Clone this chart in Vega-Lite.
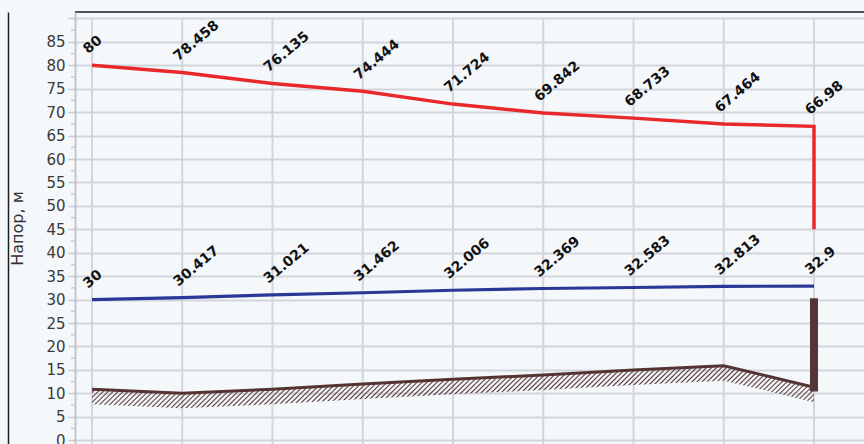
{
"$schema": "https://vega.github.io/schema/vega-lite/v6.json",
"autosize": {"type": "none"},
"padding": {"left": 75, "top": 12, "right": 0, "bottom": 0},
"width": 789,
"height": 432,
"background": "#f5f8fa",
"config": {"view": {"fill": "#f5f8fa", "stroke": "#1e1e1e", "strokeWidth": 1.5, "strokeDash": [789, 1653]}},
"resolve": {"axis": {"y": "independent"}},
"datasets": {
"st": [
{"x": 0, "p": 80, "h": 30, "g": 10.9},
{"x": 1, "p": 78.458, "h": 30.417, "g": 10.0},
{"x": 2, "p": 76.135, "h": 31.021, "g": 10.9},
{"x": 3, "p": 74.444, "h": 31.462, "g": 12.0},
{"x": 4, "p": 71.724, "h": 32.006, "g": 13.0},
{"x": 5, "p": 69.842, "h": 32.369, "g": 13.9},
{"x": 6, "p": 68.733, "h": 32.583, "g": 15.0},
{"x": 7, "p": 67.464, "h": 32.813, "g": 15.9},
{"x": 8, "p": 66.98, "h": 32.9, "g": 11.3}
],
"red": [
{"i": 0, "x": 0, "v": 80},
{"i": 1, "x": 1, "v": 78.458},
{"i": 2, "x": 2, "v": 76.135},
{"i": 3, "x": 3, "v": 74.444},
{"i": 4, "x": 4, "v": 71.724},
{"i": 5, "x": 5, "v": 69.842},
{"i": 6, "x": 6, "v": 68.733},
{"i": 7, "x": 7, "v": 67.464},
{"i": 8, "x": 8, "v": 66.98},
{"i": 9, "x": 8, "v": 45}
],
"well": [{"x": 8, "lo": 10.4, "hi": 30.3}],
"mt": [{"v":2.5},{"v":7.5},{"v":12.5},{"v":17.5},{"v":22.5},{"v":27.5},{"v":32.5},{"v":37.5},{"v":42.5},{"v":47.5},{"v":52.5},{"v":57.5},{"v":62.5},{"v":67.5},{"v":72.5},{"v":77.5},{"v":82.5},{"v":87.5}]
},
"layer": [
{"data": {"name": "mt"},
 "mark": {"type": "rule", "color": "#c8cbd3", "strokeWidth": 1.5},
 "encoding": {
  "y": {"field": "v", "type": "quantitative", "scale": {"domain": [-0.81, 91.38], "nice": false, "zero": false},
   "axis": {"orient": "left", "offset": 67, "domain": true, "domainColor": "#1e1e1e", "domainWidth": 1.5, "labels": false, "ticks": false, "grid": false, "title": null}},
  "x": {"datum": -0.233, "type": "quantitative", "scale": {"domain": [-0.1884, 8.554], "nice": false, "zero": false}, "axis": null},
  "x2": {"datum": -0.1884}
 }},
{"data": {"name": "st"},
 "mark": {"type": "rule", "color": "#d2d5dc", "strokeWidth": 2},
 "encoding": {
  "x": {"field": "x", "type": "quantitative", "scale": {"domain": [-0.1884, 8.554], "nice": false, "zero": false}, "axis": null},
  "y": {"datum": 90, "type": "quantitative", "scale": {"domain": [-0.81, 91.38], "nice": false, "zero": false}, "axis": null},
  "y2": {"datum": -0.81}
 }},
{"data": {"name": "st"},
 "mark": {"type": "area", "y2Offset": 15, "yOffset": 1,
  "fill": {"gradient": "linear", "x1": 0, "y1": 0, "x2": 1.06, "y2": 0.0625, "stops": [
{"offset":0,"color":"#5a3a3a00"},{"offset":0.002,"color":"#5a3a3a"},{"offset":0.004,"color":"#5a3a3a00"},
{"offset":0.0065,"color":"#5a3a3a00"},{"offset":0.0085,"color":"#5a3a3a"},{"offset":0.0105,"color":"#5a3a3a00"},
{"offset":0.013,"color":"#5a3a3a00"},{"offset":0.015,"color":"#5a3a3a"},{"offset":0.017,"color":"#5a3a3a00"},
{"offset":0.0195,"color":"#5a3a3a00"},{"offset":0.0215,"color":"#5a3a3a"},{"offset":0.0235,"color":"#5a3a3a00"},
{"offset":0.026,"color":"#5a3a3a00"},{"offset":0.028,"color":"#5a3a3a"},{"offset":0.03,"color":"#5a3a3a00"},
{"offset":0.0325,"color":"#5a3a3a00"},{"offset":0.0345,"color":"#5a3a3a"},{"offset":0.0365,"color":"#5a3a3a00"},
{"offset":0.039,"color":"#5a3a3a00"},{"offset":0.041,"color":"#5a3a3a"},{"offset":0.043,"color":"#5a3a3a00"},
{"offset":0.0455,"color":"#5a3a3a00"},{"offset":0.0475,"color":"#5a3a3a"},{"offset":0.0495,"color":"#5a3a3a00"},
{"offset":0.052,"color":"#5a3a3a00"},{"offset":0.054,"color":"#5a3a3a"},{"offset":0.056,"color":"#5a3a3a00"},
{"offset":0.0585,"color":"#5a3a3a00"},{"offset":0.0605,"color":"#5a3a3a"},{"offset":0.0625,"color":"#5a3a3a00"},
{"offset":0.065,"color":"#5a3a3a00"},{"offset":0.067,"color":"#5a3a3a"},{"offset":0.069,"color":"#5a3a3a00"},
{"offset":0.0715,"color":"#5a3a3a00"},{"offset":0.0735,"color":"#5a3a3a"},{"offset":0.0755,"color":"#5a3a3a00"},
{"offset":0.078,"color":"#5a3a3a00"},{"offset":0.08,"color":"#5a3a3a"},{"offset":0.082,"color":"#5a3a3a00"},
{"offset":0.0845,"color":"#5a3a3a00"},{"offset":0.0865,"color":"#5a3a3a"},{"offset":0.0885,"color":"#5a3a3a00"},
{"offset":0.091,"color":"#5a3a3a00"},{"offset":0.093,"color":"#5a3a3a"},{"offset":0.095,"color":"#5a3a3a00"},
{"offset":0.0975,"color":"#5a3a3a00"},{"offset":0.0995,"color":"#5a3a3a"},{"offset":0.1015,"color":"#5a3a3a00"},
{"offset":0.104,"color":"#5a3a3a00"},{"offset":0.106,"color":"#5a3a3a"},{"offset":0.108,"color":"#5a3a3a00"},
{"offset":0.1105,"color":"#5a3a3a00"},{"offset":0.1125,"color":"#5a3a3a"},{"offset":0.1145,"color":"#5a3a3a00"},
{"offset":0.117,"color":"#5a3a3a00"},{"offset":0.119,"color":"#5a3a3a"},{"offset":0.121,"color":"#5a3a3a00"},
{"offset":0.1235,"color":"#5a3a3a00"},{"offset":0.1255,"color":"#5a3a3a"},{"offset":0.1275,"color":"#5a3a3a00"},
{"offset":0.13,"color":"#5a3a3a00"},{"offset":0.132,"color":"#5a3a3a"},{"offset":0.134,"color":"#5a3a3a00"},
{"offset":0.1365,"color":"#5a3a3a00"},{"offset":0.1385,"color":"#5a3a3a"},{"offset":0.1405,"color":"#5a3a3a00"},
{"offset":0.143,"color":"#5a3a3a00"},{"offset":0.145,"color":"#5a3a3a"},{"offset":0.147,"color":"#5a3a3a00"},
{"offset":0.1495,"color":"#5a3a3a00"},{"offset":0.1515,"color":"#5a3a3a"},{"offset":0.1535,"color":"#5a3a3a00"},
{"offset":0.156,"color":"#5a3a3a00"},{"offset":0.158,"color":"#5a3a3a"},{"offset":0.16,"color":"#5a3a3a00"},
{"offset":0.1625,"color":"#5a3a3a00"},{"offset":0.1645,"color":"#5a3a3a"},{"offset":0.1665,"color":"#5a3a3a00"},
{"offset":0.169,"color":"#5a3a3a00"},{"offset":0.171,"color":"#5a3a3a"},{"offset":0.173,"color":"#5a3a3a00"},
{"offset":0.1755,"color":"#5a3a3a00"},{"offset":0.1775,"color":"#5a3a3a"},{"offset":0.1795,"color":"#5a3a3a00"},
{"offset":0.182,"color":"#5a3a3a00"},{"offset":0.184,"color":"#5a3a3a"},{"offset":0.186,"color":"#5a3a3a00"},
{"offset":0.1885,"color":"#5a3a3a00"},{"offset":0.1905,"color":"#5a3a3a"},{"offset":0.1925,"color":"#5a3a3a00"},
{"offset":0.195,"color":"#5a3a3a00"},{"offset":0.197,"color":"#5a3a3a"},{"offset":0.199,"color":"#5a3a3a00"},
{"offset":0.2015,"color":"#5a3a3a00"},{"offset":0.2035,"color":"#5a3a3a"},{"offset":0.2055,"color":"#5a3a3a00"},
{"offset":0.208,"color":"#5a3a3a00"},{"offset":0.21,"color":"#5a3a3a"},{"offset":0.212,"color":"#5a3a3a00"},
{"offset":0.2145,"color":"#5a3a3a00"},{"offset":0.2165,"color":"#5a3a3a"},{"offset":0.2185,"color":"#5a3a3a00"},
{"offset":0.221,"color":"#5a3a3a00"},{"offset":0.223,"color":"#5a3a3a"},{"offset":0.225,"color":"#5a3a3a00"},
{"offset":0.2275,"color":"#5a3a3a00"},{"offset":0.2295,"color":"#5a3a3a"},{"offset":0.2315,"color":"#5a3a3a00"},
{"offset":0.234,"color":"#5a3a3a00"},{"offset":0.236,"color":"#5a3a3a"},{"offset":0.238,"color":"#5a3a3a00"},
{"offset":0.2405,"color":"#5a3a3a00"},{"offset":0.2425,"color":"#5a3a3a"},{"offset":0.2445,"color":"#5a3a3a00"},
{"offset":0.247,"color":"#5a3a3a00"},{"offset":0.249,"color":"#5a3a3a"},{"offset":0.251,"color":"#5a3a3a00"},
{"offset":0.2535,"color":"#5a3a3a00"},{"offset":0.2555,"color":"#5a3a3a"},{"offset":0.2575,"color":"#5a3a3a00"},
{"offset":0.26,"color":"#5a3a3a00"},{"offset":0.262,"color":"#5a3a3a"},{"offset":0.264,"color":"#5a3a3a00"},
{"offset":0.2665,"color":"#5a3a3a00"},{"offset":0.2685,"color":"#5a3a3a"},{"offset":0.2705,"color":"#5a3a3a00"},
{"offset":0.273,"color":"#5a3a3a00"},{"offset":0.275,"color":"#5a3a3a"},{"offset":0.277,"color":"#5a3a3a00"},
{"offset":0.2795,"color":"#5a3a3a00"},{"offset":0.2815,"color":"#5a3a3a"},{"offset":0.2835,"color":"#5a3a3a00"},
{"offset":0.286,"color":"#5a3a3a00"},{"offset":0.288,"color":"#5a3a3a"},{"offset":0.29,"color":"#5a3a3a00"},
{"offset":0.2925,"color":"#5a3a3a00"},{"offset":0.2945,"color":"#5a3a3a"},{"offset":0.2965,"color":"#5a3a3a00"},
{"offset":0.299,"color":"#5a3a3a00"},{"offset":0.301,"color":"#5a3a3a"},{"offset":0.303,"color":"#5a3a3a00"},
{"offset":0.3055,"color":"#5a3a3a00"},{"offset":0.3075,"color":"#5a3a3a"},{"offset":0.3095,"color":"#5a3a3a00"},
{"offset":0.312,"color":"#5a3a3a00"},{"offset":0.314,"color":"#5a3a3a"},{"offset":0.316,"color":"#5a3a3a00"},
{"offset":0.3185,"color":"#5a3a3a00"},{"offset":0.3205,"color":"#5a3a3a"},{"offset":0.3225,"color":"#5a3a3a00"},
{"offset":0.325,"color":"#5a3a3a00"},{"offset":0.327,"color":"#5a3a3a"},{"offset":0.329,"color":"#5a3a3a00"},
{"offset":0.3315,"color":"#5a3a3a00"},{"offset":0.3335,"color":"#5a3a3a"},{"offset":0.3355,"color":"#5a3a3a00"},
{"offset":0.338,"color":"#5a3a3a00"},{"offset":0.34,"color":"#5a3a3a"},{"offset":0.342,"color":"#5a3a3a00"},
{"offset":0.3445,"color":"#5a3a3a00"},{"offset":0.3465,"color":"#5a3a3a"},{"offset":0.3485,"color":"#5a3a3a00"},
{"offset":0.351,"color":"#5a3a3a00"},{"offset":0.353,"color":"#5a3a3a"},{"offset":0.355,"color":"#5a3a3a00"},
{"offset":0.3575,"color":"#5a3a3a00"},{"offset":0.3595,"color":"#5a3a3a"},{"offset":0.3615,"color":"#5a3a3a00"},
{"offset":0.364,"color":"#5a3a3a00"},{"offset":0.366,"color":"#5a3a3a"},{"offset":0.368,"color":"#5a3a3a00"},
{"offset":0.3705,"color":"#5a3a3a00"},{"offset":0.3725,"color":"#5a3a3a"},{"offset":0.3745,"color":"#5a3a3a00"},
{"offset":0.377,"color":"#5a3a3a00"},{"offset":0.379,"color":"#5a3a3a"},{"offset":0.381,"color":"#5a3a3a00"},
{"offset":0.3835,"color":"#5a3a3a00"},{"offset":0.3855,"color":"#5a3a3a"},{"offset":0.3875,"color":"#5a3a3a00"},
{"offset":0.39,"color":"#5a3a3a00"},{"offset":0.392,"color":"#5a3a3a"},{"offset":0.394,"color":"#5a3a3a00"},
{"offset":0.3965,"color":"#5a3a3a00"},{"offset":0.3985,"color":"#5a3a3a"},{"offset":0.4005,"color":"#5a3a3a00"},
{"offset":0.403,"color":"#5a3a3a00"},{"offset":0.405,"color":"#5a3a3a"},{"offset":0.407,"color":"#5a3a3a00"},
{"offset":0.4095,"color":"#5a3a3a00"},{"offset":0.4115,"color":"#5a3a3a"},{"offset":0.4135,"color":"#5a3a3a00"},
{"offset":0.416,"color":"#5a3a3a00"},{"offset":0.418,"color":"#5a3a3a"},{"offset":0.42,"color":"#5a3a3a00"},
{"offset":0.4225,"color":"#5a3a3a00"},{"offset":0.4245,"color":"#5a3a3a"},{"offset":0.4265,"color":"#5a3a3a00"},
{"offset":0.429,"color":"#5a3a3a00"},{"offset":0.431,"color":"#5a3a3a"},{"offset":0.433,"color":"#5a3a3a00"},
{"offset":0.4355,"color":"#5a3a3a00"},{"offset":0.4375,"color":"#5a3a3a"},{"offset":0.4395,"color":"#5a3a3a00"},
{"offset":0.442,"color":"#5a3a3a00"},{"offset":0.444,"color":"#5a3a3a"},{"offset":0.446,"color":"#5a3a3a00"},
{"offset":0.4485,"color":"#5a3a3a00"},{"offset":0.4505,"color":"#5a3a3a"},{"offset":0.4525,"color":"#5a3a3a00"},
{"offset":0.455,"color":"#5a3a3a00"},{"offset":0.457,"color":"#5a3a3a"},{"offset":0.459,"color":"#5a3a3a00"},
{"offset":0.4615,"color":"#5a3a3a00"},{"offset":0.4635,"color":"#5a3a3a"},{"offset":0.4655,"color":"#5a3a3a00"},
{"offset":0.468,"color":"#5a3a3a00"},{"offset":0.47,"color":"#5a3a3a"},{"offset":0.472,"color":"#5a3a3a00"},
{"offset":0.4745,"color":"#5a3a3a00"},{"offset":0.4765,"color":"#5a3a3a"},{"offset":0.4785,"color":"#5a3a3a00"},
{"offset":0.481,"color":"#5a3a3a00"},{"offset":0.483,"color":"#5a3a3a"},{"offset":0.485,"color":"#5a3a3a00"},
{"offset":0.4875,"color":"#5a3a3a00"},{"offset":0.4895,"color":"#5a3a3a"},{"offset":0.4915,"color":"#5a3a3a00"},
{"offset":0.494,"color":"#5a3a3a00"},{"offset":0.496,"color":"#5a3a3a"},{"offset":0.498,"color":"#5a3a3a00"},
{"offset":0.5005,"color":"#5a3a3a00"},{"offset":0.5025,"color":"#5a3a3a"},{"offset":0.5045,"color":"#5a3a3a00"},
{"offset":0.507,"color":"#5a3a3a00"},{"offset":0.509,"color":"#5a3a3a"},{"offset":0.511,"color":"#5a3a3a00"},
{"offset":0.5135,"color":"#5a3a3a00"},{"offset":0.5155,"color":"#5a3a3a"},{"offset":0.5175,"color":"#5a3a3a00"},
{"offset":0.52,"color":"#5a3a3a00"},{"offset":0.522,"color":"#5a3a3a"},{"offset":0.524,"color":"#5a3a3a00"},
{"offset":0.5265,"color":"#5a3a3a00"},{"offset":0.5285,"color":"#5a3a3a"},{"offset":0.5305,"color":"#5a3a3a00"},
{"offset":0.533,"color":"#5a3a3a00"},{"offset":0.535,"color":"#5a3a3a"},{"offset":0.537,"color":"#5a3a3a00"},
{"offset":0.5395,"color":"#5a3a3a00"},{"offset":0.5415,"color":"#5a3a3a"},{"offset":0.5435,"color":"#5a3a3a00"},
{"offset":0.546,"color":"#5a3a3a00"},{"offset":0.548,"color":"#5a3a3a"},{"offset":0.55,"color":"#5a3a3a00"},
{"offset":0.5525,"color":"#5a3a3a00"},{"offset":0.5545,"color":"#5a3a3a"},{"offset":0.5565,"color":"#5a3a3a00"},
{"offset":0.559,"color":"#5a3a3a00"},{"offset":0.561,"color":"#5a3a3a"},{"offset":0.563,"color":"#5a3a3a00"},
{"offset":0.5655,"color":"#5a3a3a00"},{"offset":0.5675,"color":"#5a3a3a"},{"offset":0.5695,"color":"#5a3a3a00"},
{"offset":0.572,"color":"#5a3a3a00"},{"offset":0.574,"color":"#5a3a3a"},{"offset":0.576,"color":"#5a3a3a00"},
{"offset":0.5785,"color":"#5a3a3a00"},{"offset":0.5805,"color":"#5a3a3a"},{"offset":0.5825,"color":"#5a3a3a00"},
{"offset":0.585,"color":"#5a3a3a00"},{"offset":0.587,"color":"#5a3a3a"},{"offset":0.589,"color":"#5a3a3a00"},
{"offset":0.5915,"color":"#5a3a3a00"},{"offset":0.5935,"color":"#5a3a3a"},{"offset":0.5955,"color":"#5a3a3a00"},
{"offset":0.598,"color":"#5a3a3a00"},{"offset":0.6,"color":"#5a3a3a"},{"offset":0.602,"color":"#5a3a3a00"},
{"offset":0.6045,"color":"#5a3a3a00"},{"offset":0.6065,"color":"#5a3a3a"},{"offset":0.6085,"color":"#5a3a3a00"},
{"offset":0.611,"color":"#5a3a3a00"},{"offset":0.613,"color":"#5a3a3a"},{"offset":0.615,"color":"#5a3a3a00"},
{"offset":0.6175,"color":"#5a3a3a00"},{"offset":0.6195,"color":"#5a3a3a"},{"offset":0.6215,"color":"#5a3a3a00"},
{"offset":0.624,"color":"#5a3a3a00"},{"offset":0.626,"color":"#5a3a3a"},{"offset":0.628,"color":"#5a3a3a00"},
{"offset":0.6305,"color":"#5a3a3a00"},{"offset":0.6325,"color":"#5a3a3a"},{"offset":0.6345,"color":"#5a3a3a00"},
{"offset":0.637,"color":"#5a3a3a00"},{"offset":0.639,"color":"#5a3a3a"},{"offset":0.641,"color":"#5a3a3a00"},
{"offset":0.6435,"color":"#5a3a3a00"},{"offset":0.6455,"color":"#5a3a3a"},{"offset":0.6475,"color":"#5a3a3a00"},
{"offset":0.65,"color":"#5a3a3a00"},{"offset":0.652,"color":"#5a3a3a"},{"offset":0.654,"color":"#5a3a3a00"},
{"offset":0.6565,"color":"#5a3a3a00"},{"offset":0.6585,"color":"#5a3a3a"},{"offset":0.6605,"color":"#5a3a3a00"},
{"offset":0.663,"color":"#5a3a3a00"},{"offset":0.665,"color":"#5a3a3a"},{"offset":0.667,"color":"#5a3a3a00"},
{"offset":0.6695,"color":"#5a3a3a00"},{"offset":0.6715,"color":"#5a3a3a"},{"offset":0.6735,"color":"#5a3a3a00"},
{"offset":0.676,"color":"#5a3a3a00"},{"offset":0.678,"color":"#5a3a3a"},{"offset":0.68,"color":"#5a3a3a00"},
{"offset":0.6825,"color":"#5a3a3a00"},{"offset":0.6845,"color":"#5a3a3a"},{"offset":0.6865,"color":"#5a3a3a00"},
{"offset":0.689,"color":"#5a3a3a00"},{"offset":0.691,"color":"#5a3a3a"},{"offset":0.693,"color":"#5a3a3a00"},
{"offset":0.6955,"color":"#5a3a3a00"},{"offset":0.6975,"color":"#5a3a3a"},{"offset":0.6995,"color":"#5a3a3a00"},
{"offset":0.702,"color":"#5a3a3a00"},{"offset":0.704,"color":"#5a3a3a"},{"offset":0.706,"color":"#5a3a3a00"},
{"offset":0.7085,"color":"#5a3a3a00"},{"offset":0.7105,"color":"#5a3a3a"},{"offset":0.7125,"color":"#5a3a3a00"},
{"offset":0.715,"color":"#5a3a3a00"},{"offset":0.717,"color":"#5a3a3a"},{"offset":0.719,"color":"#5a3a3a00"},
{"offset":0.7215,"color":"#5a3a3a00"},{"offset":0.7235,"color":"#5a3a3a"},{"offset":0.7255,"color":"#5a3a3a00"},
{"offset":0.728,"color":"#5a3a3a00"},{"offset":0.73,"color":"#5a3a3a"},{"offset":0.732,"color":"#5a3a3a00"},
{"offset":0.7345,"color":"#5a3a3a00"},{"offset":0.7365,"color":"#5a3a3a"},{"offset":0.7385,"color":"#5a3a3a00"},
{"offset":0.741,"color":"#5a3a3a00"},{"offset":0.743,"color":"#5a3a3a"},{"offset":0.745,"color":"#5a3a3a00"},
{"offset":0.7475,"color":"#5a3a3a00"},{"offset":0.7495,"color":"#5a3a3a"},{"offset":0.7515,"color":"#5a3a3a00"},
{"offset":0.754,"color":"#5a3a3a00"},{"offset":0.756,"color":"#5a3a3a"},{"offset":0.758,"color":"#5a3a3a00"},
{"offset":0.7605,"color":"#5a3a3a00"},{"offset":0.7625,"color":"#5a3a3a"},{"offset":0.7645,"color":"#5a3a3a00"},
{"offset":0.767,"color":"#5a3a3a00"},{"offset":0.769,"color":"#5a3a3a"},{"offset":0.771,"color":"#5a3a3a00"},
{"offset":0.7735,"color":"#5a3a3a00"},{"offset":0.7755,"color":"#5a3a3a"},{"offset":0.7775,"color":"#5a3a3a00"},
{"offset":0.78,"color":"#5a3a3a00"},{"offset":0.782,"color":"#5a3a3a"},{"offset":0.784,"color":"#5a3a3a00"},
{"offset":0.7865,"color":"#5a3a3a00"},{"offset":0.7885,"color":"#5a3a3a"},{"offset":0.7905,"color":"#5a3a3a00"},
{"offset":0.793,"color":"#5a3a3a00"},{"offset":0.795,"color":"#5a3a3a"},{"offset":0.797,"color":"#5a3a3a00"},
{"offset":0.7995,"color":"#5a3a3a00"},{"offset":0.8015,"color":"#5a3a3a"},{"offset":0.8035,"color":"#5a3a3a00"},
{"offset":0.806,"color":"#5a3a3a00"},{"offset":0.808,"color":"#5a3a3a"},{"offset":0.81,"color":"#5a3a3a00"},
{"offset":0.8125,"color":"#5a3a3a00"},{"offset":0.8145,"color":"#5a3a3a"},{"offset":0.8165,"color":"#5a3a3a00"},
{"offset":0.819,"color":"#5a3a3a00"},{"offset":0.821,"color":"#5a3a3a"},{"offset":0.823,"color":"#5a3a3a00"},
{"offset":0.8255,"color":"#5a3a3a00"},{"offset":0.8275,"color":"#5a3a3a"},{"offset":0.8295,"color":"#5a3a3a00"},
{"offset":0.832,"color":"#5a3a3a00"},{"offset":0.834,"color":"#5a3a3a"},{"offset":0.836,"color":"#5a3a3a00"},
{"offset":0.8385,"color":"#5a3a3a00"},{"offset":0.8405,"color":"#5a3a3a"},{"offset":0.8425,"color":"#5a3a3a00"},
{"offset":0.845,"color":"#5a3a3a00"},{"offset":0.847,"color":"#5a3a3a"},{"offset":0.849,"color":"#5a3a3a00"},
{"offset":0.8515,"color":"#5a3a3a00"},{"offset":0.8535,"color":"#5a3a3a"},{"offset":0.8555,"color":"#5a3a3a00"},
{"offset":0.858,"color":"#5a3a3a00"},{"offset":0.86,"color":"#5a3a3a"},{"offset":0.862,"color":"#5a3a3a00"},
{"offset":0.8645,"color":"#5a3a3a00"},{"offset":0.8665,"color":"#5a3a3a"},{"offset":0.8685,"color":"#5a3a3a00"},
{"offset":0.871,"color":"#5a3a3a00"},{"offset":0.873,"color":"#5a3a3a"},{"offset":0.875,"color":"#5a3a3a00"},
{"offset":0.8775,"color":"#5a3a3a00"},{"offset":0.8795,"color":"#5a3a3a"},{"offset":0.8815,"color":"#5a3a3a00"},
{"offset":0.884,"color":"#5a3a3a00"},{"offset":0.886,"color":"#5a3a3a"},{"offset":0.888,"color":"#5a3a3a00"},
{"offset":0.8905,"color":"#5a3a3a00"},{"offset":0.8925,"color":"#5a3a3a"},{"offset":0.8945,"color":"#5a3a3a00"},
{"offset":0.897,"color":"#5a3a3a00"},{"offset":0.899,"color":"#5a3a3a"},{"offset":0.901,"color":"#5a3a3a00"},
{"offset":0.9035,"color":"#5a3a3a00"},{"offset":0.9055,"color":"#5a3a3a"},{"offset":0.9075,"color":"#5a3a3a00"},
{"offset":0.91,"color":"#5a3a3a00"},{"offset":0.912,"color":"#5a3a3a"},{"offset":0.914,"color":"#5a3a3a00"},
{"offset":0.9165,"color":"#5a3a3a00"},{"offset":0.9185,"color":"#5a3a3a"},{"offset":0.9205,"color":"#5a3a3a00"},
{"offset":0.923,"color":"#5a3a3a00"},{"offset":0.925,"color":"#5a3a3a"},{"offset":0.927,"color":"#5a3a3a00"},
{"offset":0.9295,"color":"#5a3a3a00"},{"offset":0.9315,"color":"#5a3a3a"},{"offset":0.9335,"color":"#5a3a3a00"},
{"offset":0.936,"color":"#5a3a3a00"},{"offset":0.938,"color":"#5a3a3a"},{"offset":0.94,"color":"#5a3a3a00"},
{"offset":0.9425,"color":"#5a3a3a00"},{"offset":0.9445,"color":"#5a3a3a"},{"offset":0.9465,"color":"#5a3a3a00"},
{"offset":0.949,"color":"#5a3a3a00"},{"offset":0.951,"color":"#5a3a3a"},{"offset":0.953,"color":"#5a3a3a00"},
{"offset":0.9555,"color":"#5a3a3a00"},{"offset":0.9575,"color":"#5a3a3a"},{"offset":0.9595,"color":"#5a3a3a00"},
{"offset":0.962,"color":"#5a3a3a00"},{"offset":0.964,"color":"#5a3a3a"},{"offset":0.966,"color":"#5a3a3a00"},
{"offset":0.9685,"color":"#5a3a3a00"},{"offset":0.9705,"color":"#5a3a3a"},{"offset":0.9725,"color":"#5a3a3a00"},
{"offset":0.975,"color":"#5a3a3a00"},{"offset":0.977,"color":"#5a3a3a"},{"offset":0.979,"color":"#5a3a3a00"},
{"offset":0.9815,"color":"#5a3a3a00"},{"offset":0.9835,"color":"#5a3a3a"},{"offset":0.9855,"color":"#5a3a3a00"},
{"offset":0.988,"color":"#5a3a3a00"},{"offset":0.99,"color":"#5a3a3a"},{"offset":0.992,"color":"#5a3a3a00"},
{"offset":0.9945,"color":"#5a3a3a00"},{"offset":0.9965,"color":"#5a3a3a"},{"offset":0.9985,"color":"#5a3a3a00"}
  ]}},
 "encoding": {
  "x": {"field": "x", "type": "quantitative", "scale": {"domain": [-0.1884, 8.554], "nice": false, "zero": false}, "axis": null},
  "y": {"field": "g", "type": "quantitative", "scale": {"domain": [-0.81, 91.38], "nice": false, "zero": false}, "axis": null},
  "y2": {"field": "g"}
 }},
{"data": {"name": "st"},
 "mark": {"type": "line", "color": "#553333", "strokeWidth": 3},
 "encoding": {
  "x": {"field": "x", "type": "quantitative", "scale": {"domain": [-0.1884, 8.554], "nice": false, "zero": false}, "axis": null},
  "y": {"field": "g", "type": "quantitative", "scale": {"domain": [-0.81, 91.38], "nice": false, "zero": false},
   "axis": {"orient": "left", "title": "Напор, м", "values": [0,5,10,15,20,25,30,35,40,45,50,55,60,65,70,75,80,85,90], "labelExpr": "datum.value == 90 ? '' : datum.label", "grid": true, "gridColor": "#d2d5dc", "gridWidth": 2, "ticks": true, "tickSize": 7, "tickColor": "#c8cbd3", "tickWidth": 1.5, "domain": true, "domainColor": "#c3c6ce", "domainWidth": 2, "labelFont": "DejaVu Sans", "labelFontSize": 15, "labelColor": "#3a3a3a", "labelPadding": 3, "labelOverlap": false, "titleFont": "DejaVu Sans", "titleFontSize": 16, "titleFontWeight": "normal", "titleColor": "#333333", "titlePadding": 20}}
 }},
{"data": {"name": "st"},
 "mark": {"type": "line", "color": "#2b3796", "strokeWidth": 3.2},
 "encoding": {
  "x": {"field": "x", "type": "quantitative", "scale": {"domain": [-0.1884, 8.554], "nice": false, "zero": false}, "axis": null},
  "y": {"field": "h", "type": "quantitative", "scale": {"domain": [-0.81, 91.38], "nice": false, "zero": false}, "axis": null}
 }},
{"data": {"name": "red"},
 "mark": {"type": "line", "color": "#e8282b", "strokeWidth": 3.5},
 "encoding": {
  "x": {"field": "x", "type": "quantitative", "scale": {"domain": [-0.1884, 8.554], "nice": false, "zero": false}, "axis": null},
  "y": {"field": "v", "type": "quantitative", "scale": {"domain": [-0.81, 91.38], "nice": false, "zero": false}, "axis": null},
  "order": {"field": "i", "type": "quantitative"}
 }},
{"data": {"name": "well"},
 "mark": {"type": "rule", "color": "#553535", "strokeWidth": 8, "strokeCap": "butt"},
 "encoding": {
  "x": {"field": "x", "type": "quantitative", "scale": {"domain": [-0.1884, 8.554], "nice": false, "zero": false}, "axis": null},
  "y": {"field": "lo", "type": "quantitative", "scale": {"domain": [-0.81, 91.38], "nice": false, "zero": false}, "axis": null},
  "y2": {"field": "hi"}
 }},
{"data": {"name": "st"},
 "mark": {"type": "text", "font": "DejaVu Sans", "fontWeight": "bold", "fontSize": 14, "angle": 320, "align": "left", "baseline": "alphabetic", "dx": 4, "dy": -11, "color": "#111111"},
 "encoding": {
  "x": {"field": "x", "type": "quantitative", "scale": {"domain": [-0.1884, 8.554], "nice": false, "zero": false}, "axis": null},
  "y": {"field": "p", "type": "quantitative", "scale": {"domain": [-0.81, 91.38], "nice": false, "zero": false}, "axis": null},
  "text": {"field": "p", "type": "nominal"}
 }},
{"data": {"name": "st"},
 "mark": {"type": "text", "font": "DejaVu Sans", "fontWeight": "bold", "fontSize": 14, "angle": 320, "align": "left", "baseline": "alphabetic", "dx": 4, "dy": -11, "color": "#111111"},
 "encoding": {
  "x": {"field": "x", "type": "quantitative", "scale": {"domain": [-0.1884, 8.554], "nice": false, "zero": false}, "axis": null},
  "y": {"field": "h", "type": "quantitative", "scale": {"domain": [-0.81, 91.38], "nice": false, "zero": false}, "axis": null},
  "text": {"field": "h", "type": "nominal"}
 }}
]
}
